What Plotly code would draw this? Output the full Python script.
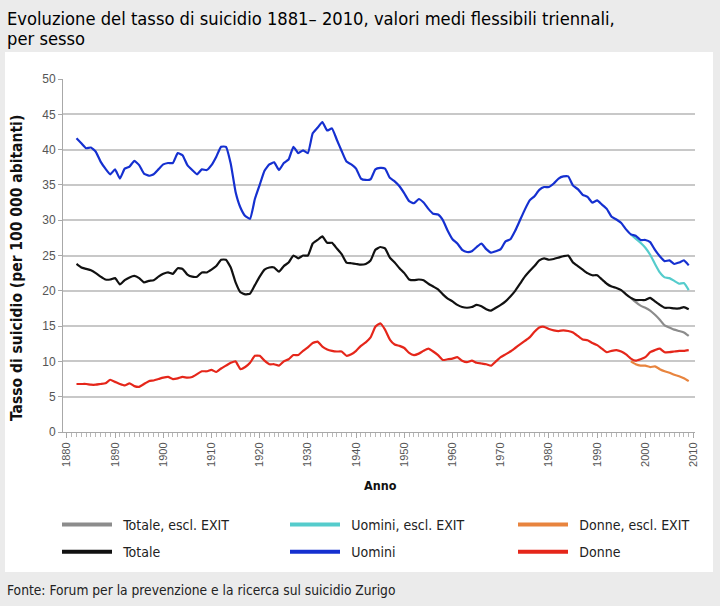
import plotly.graph_objects as go

years = list(range(1882, 2010))
years_excl = list(range(1997, 2010))

uomini = [41.6, 40.9, 40.2, 40.3, 39.7, 38.3, 37.3, 36.5, 37.2, 35.9,
          37.3, 37.6, 38.4, 37.8, 36.6, 36.3, 36.5, 37.2, 37.9, 38.1,
          38.1, 39.5, 39.2, 37.8, 37.1, 36.5, 37.2, 37.1, 37.8, 39.0,
          40.4, 40.4, 38.0, 34.0, 31.8, 30.6, 30.2, 33.0, 35.0, 37.0,
          37.9, 38.2, 37.1, 38.1, 38.6, 40.4, 39.5, 39.9, 39.5, 42.3,
          43.1, 43.9, 42.7, 43.0, 41.4, 39.8, 38.3, 37.9, 37.3, 35.9,
          35.7, 35.8, 37.2, 37.4, 37.3, 36.0, 35.5, 34.8, 33.8, 32.7,
          32.4, 33.0, 32.5, 31.6, 30.9, 30.8, 30.0, 28.5, 27.3, 26.7,
          25.8, 25.5, 25.6, 26.2, 26.7, 25.9, 25.4, 25.6, 25.9, 27.0,
          27.3, 28.5, 30.0, 31.5, 32.8, 33.4, 34.3, 34.7, 34.7, 35.2,
          35.9, 36.2, 36.2, 34.9, 34.4, 33.6, 33.3, 32.5, 32.8, 32.2,
          31.6, 30.5, 30.1, 29.6, 28.7, 28.0, 27.8, 27.2, 27.2, 26.9,
          25.8, 24.9, 24.2, 24.3, 23.8, 24.0, 24.3, 23.6]

totale = [23.8, 23.3, 23.1, 22.9, 22.5, 22.0, 21.6, 21.6, 21.8, 20.9,
          21.5, 21.9, 22.1, 21.8, 21.2, 21.4, 21.5, 22.0, 22.4, 22.6,
          22.4, 23.2, 23.1, 22.3, 22.0, 22.0, 22.6, 22.6, 23.0, 23.5,
          24.4, 24.4, 23.3, 21.2, 19.8, 19.5, 19.6, 20.8, 22.0, 23.0,
          23.3, 23.3, 22.7, 23.5, 24.0, 25.0, 24.6, 25.0, 25.0, 26.7,
          27.2, 27.7, 26.8, 26.8, 26.0, 25.2, 24.0, 23.9, 23.8, 23.7,
          23.8, 24.3, 25.8, 26.2, 26.0, 24.7, 24.0, 23.2, 22.5, 21.6,
          21.5, 21.6, 21.5, 21.0, 20.6, 20.2, 19.5, 18.9, 18.5, 18.0,
          17.7, 17.6, 17.7, 18.0, 17.8, 17.4, 17.2, 17.6, 18.0, 18.5,
          19.2, 20.0, 21.0, 22.0, 22.8, 23.5, 24.3, 24.6, 24.4, 24.5,
          24.7, 24.9, 25.0, 24.0, 23.5, 23.0, 22.5, 22.2, 22.2, 21.6,
          21.0, 20.6, 20.4, 20.1, 19.5, 19.0, 18.7, 18.7, 18.7, 19.0,
          18.5, 18.0, 17.6, 17.6, 17.5, 17.5, 17.7, 17.4]

donne = [6.8, 6.8, 6.8, 6.7, 6.7, 6.8, 6.9, 7.4, 7.1, 6.8,
         6.6, 6.9, 6.5, 6.4, 6.8, 7.2, 7.3, 7.5, 7.7, 7.8,
         7.5, 7.6, 7.8, 7.7, 7.8, 8.2, 8.6, 8.6, 8.8, 8.5,
         9.0, 9.4, 9.8, 10.0, 8.9, 9.2, 9.8, 10.8, 10.8, 10.1,
         9.6, 9.6, 9.4, 10.0, 10.3, 10.9, 10.9, 11.5, 12.0, 12.6,
         12.8, 12.1, 11.7, 11.5, 11.4, 11.4, 10.8, 11.0, 11.5, 12.2,
         12.7, 13.4, 14.9, 15.4, 14.5, 13.1, 12.4, 12.2, 11.9, 11.2,
         10.9, 11.1, 11.5, 11.8, 11.4, 10.9, 10.2, 10.3, 10.4, 10.6,
         10.1, 9.9, 10.1, 9.8, 9.7, 9.6, 9.4, 10.0, 10.6, 11.0,
         11.4, 11.9, 12.4, 12.9, 13.4, 14.2, 14.8, 14.9, 14.6, 14.4,
         14.3, 14.4, 14.3, 14.1, 13.6, 13.1, 13.0, 12.6, 12.3, 11.8,
         11.3, 11.5, 11.6, 11.4, 11.0, 10.4, 10.1, 10.3, 10.6, 11.3,
         11.6, 11.8, 11.3, 11.3, 11.4, 11.5, 11.5, 11.6]

totale_excl = [19.0, 18.4, 17.9, 17.6, 17.2, 16.6, 15.9, 15.1, 14.8, 14.5, 14.3, 14.1, 13.6]
uomini_excl = [28.0, 27.4, 26.8, 26.1, 25.1, 23.8, 22.6, 21.9, 21.8, 21.4, 21.0, 21.1, 20.1]
donne_excl = [10.0, 9.6, 9.4, 9.4, 9.2, 9.3, 8.9, 8.6, 8.4, 8.1, 7.9, 7.6, 7.2]

x_ticks = list(range(1880, 2011, 10))
y_ticks = list(range(0, 51, 5))

C_TOT_EX = "#8c8c8c"
C_UOM_EX = "#55cccc"
C_DON_EX = "#e8843e"
C_TOT = "#111111"
C_UOM = "#1530d0"
C_DON = "#e5261a"

NARROW = "Liberation Sans Narrow, DejaVu Sans Condensed, sans-serif"
ARIAL = "Liberation Sans, Arial, sans-serif"

fig = go.Figure()

series = [
    (years_excl, totale_excl, C_TOT_EX),
    (years_excl, uomini_excl, C_UOM_EX),
    (years_excl, donne_excl, C_DON_EX),
    (years, totale, C_TOT),
    (years, uomini, C_UOM),
    (years, donne, C_DON),
]
for xs, ys, col in series:
    fig.add_trace(go.Scatter(x=xs, y=ys, mode="lines", showlegend=False,
                             line=dict(color=col, width=2.2, shape="spline", smoothing=0.4),
                             hoverinfo="x+y"))

# legend columns: (name, colour, legend id)
legend_items = [
    ("Totale, escl. EXIT", C_TOT_EX, "legend"),
    ("Totale", C_TOT, "legend"),
    ("Uomini, escl. EXIT", C_UOM_EX, "legend2"),
    ("Uomini", C_UOM, "legend2"),
    ("Donne, escl. EXIT", C_DON_EX, "legend3"),
    ("Donne", C_DON, "legend3"),
]
for i, (name, col, lg) in enumerate(legend_items):
    fig.add_trace(go.Scatter(x=[None], y=[None], mode="lines", name="\u2002" + name,
                             legendgroup="g%d" % i,
                             line=dict(color=col, width=4), legend=lg))

L, R, T, B = 63, 25, 79, 174
W, H = 720, 606
pw, ph = W - L - R, H - T - B


def px(xp):
    return (xp - L) / pw


def py(yp):
    return (H - B - yp) / ph


# white panel
fig.add_shape(type="rect", xref="paper", yref="paper",
              x0=px(5), x1=px(713), y0=py(572), y1=py(52),
              fillcolor="white", line=dict(width=0), layer="below")

leg_common = dict(orientation="v", xanchor="left", yanchor="top",
                  font=dict(family=NARROW, size=14, color="#222"),
                  itemwidth=50, tracegroupgap=6, bgcolor="rgba(0,0,0,0)",
                  traceorder="grouped", y=py(509))

fig.update_layout(
    width=W, height=H,
    margin=dict(l=L, r=R, t=T, b=B),
    paper_bgcolor="#ebebeb",
    plot_bgcolor="white",
    legend=dict(x=px(57), **leg_common),
    legend2=dict(x=px(285), **leg_common),
    legend3=dict(x=px(513), **leg_common),
    xaxis=dict(range=[1879.2, 2010.3], tickmode="array", tickvals=x_ticks,
               ticktext=[str(v) for v in x_ticks], tickangle=-90,
               tickfont=dict(family=ARIAL, size=11, color="#555"),
               showgrid=False, zeroline=False, showline=True, linecolor="#a8a8a8",
               ticks="outside", ticklen=5, tickcolor="#a8a8a8",
               minor=dict(dtick=1, tick0=1880, ticks="outside", ticklen=4, tickcolor="#b8b8b8")),
    yaxis=dict(range=[0, 50], tickvals=y_ticks, ticktext=[str(v) for v in y_ticks],
               tickfont=dict(family=ARIAL, size=12, color="#555"),
               showgrid=True, gridcolor="#c8c8c8", gridwidth=1.6,
               zeroline=False, showline=True, linecolor="#a8a8a8",
               ticks="outside", ticklen=4, tickcolor="#a8a8a8"),
    annotations=[
        dict(text="Evoluzione del tasso di suicidio 1881– 2010, valori medi flessibili triennali,",
             xref="paper", yref="paper", x=px(5), y=py(18.5), xanchor="left", yanchor="middle",
             align="left", showarrow=False,
             font=dict(family=NARROW, size=18.2, color="#000")),
        dict(text="per sesso",
             xref="paper", yref="paper", x=px(5), y=py(38), xanchor="left", yanchor="middle",
             align="left", showarrow=False,
             font=dict(family=NARROW, size=18.2, color="#000")),
        dict(text="<b>Tasso di suicidio (per 100 000 abitanti)</b>", xref="paper", yref="paper",
             x=px(17), y=py(268), xanchor="center", yanchor="middle", textangle=-90, showarrow=False,
             font=dict(family=NARROW, size=15.5, color="#111")),
        dict(text="<b>Anno</b>", xref="paper", yref="paper", x=px(380), y=py(485),
             xanchor="center", yanchor="middle",
             showarrow=False, font=dict(family=NARROW, size=12.5, color="#111")),
        dict(text="Fonte: Forum per la prevenzione e la ricerca sul suicidio Zurigo",
             xref="paper", yref="paper", x=px(5), y=py(590), xanchor="left", yanchor="middle",
             showarrow=False, font=dict(family=NARROW, size=13.7, color="#222")),
    ],
)

fig.write_html("out.html", config={"displayModeBar": False},
               post_script="document.body.style.margin='0px';")
